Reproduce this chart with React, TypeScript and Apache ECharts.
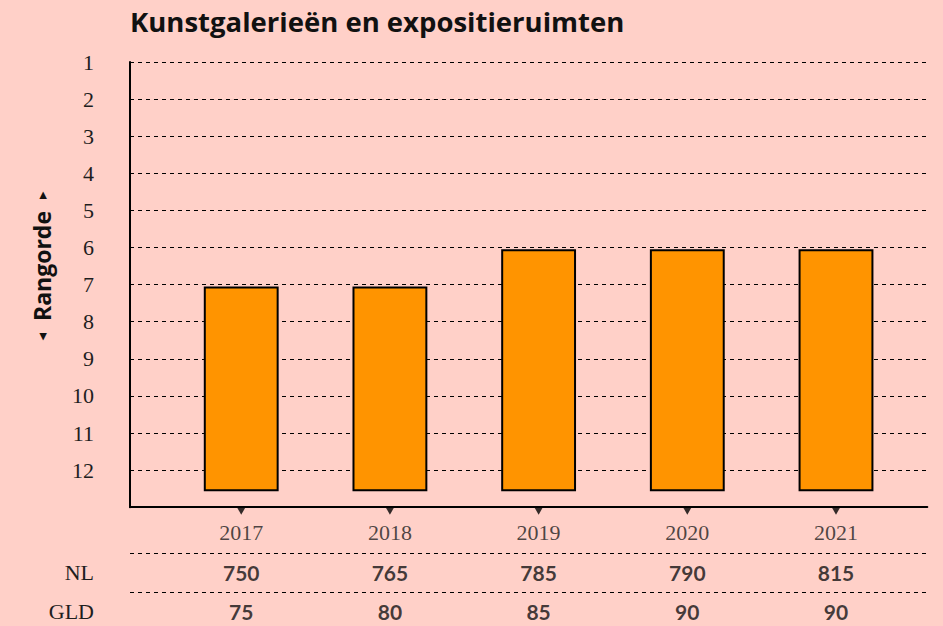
import React, { useEffect, useRef } from 'react';
import * as echarts from 'echarts';

const title = 'Kunstgalerieën en expositieruimten';
const axisName = 'Rangorde';
const years = [2017, 2018, 2019, 2020, 2021];
const ranks = [7, 7, 6, 6, 6];
const nlValues = [750, 765, 785, 790, 815];
const gldValues = [75, 80, 85, 90, 90];
const tableRows = ['NL', 'GLD'];

export default function App() {
  const ref = useRef<HTMLDivElement>(null);
  useEffect(() => {
    document.body.style.margin = '0';
    const chart = echarts.init(ref.current as HTMLDivElement, null, { renderer: 'svg' });
    const serif = "'Liberation Serif', 'DejaVu Serif', serif";
    const sans = "Lato, 'DejaVu Sans', sans-serif";
    const sansWide = "'Open Sans', 'DejaVu Sans', sans-serif";
    const xMin = 2016.252;
    const xMax = 2021.614;
    const BAR_BASE = 12.54;
    const BAR_TOP_PAD = 0.075;
    const BAR_HALF = 0.245;
    const dashed = { type: [4, 4], color: '#000', width: 1 };

    chart.setOption({
      animation: false,
      backgroundColor: '#FFD0C8',
      title: {
        text: title,
        left: 130,
        top: 7,
        padding: 0,
        textStyle: { fontFamily: sansWide, fontWeight: 'bold', fontSize: 27.5, color: '#111' },
      },
      graphic: [
        {
          type: 'text',
          x: 42,
          y: 266,
          rotation: Math.PI / 2,
          style: {
            text: `{t|◂}  ${axisName}  {t|▸}`,
            font: `bold 23px ${sansWide}`,
            textAlign: 'center',
            textVerticalAlign: 'middle',
            fill: '#111',
            rich: {
              t: { fontSize: 15, fontFamily: "'DejaVu Sans', sans-serif", fill: '#111' },
            },
          },
        },
      ],
      grid: [
        { left: 130, right: 15.7, top: 62, bottom: 118.8, outerBoundsMode: 'none' },
        { left: 130, right: 15.7, top: 553.3, height: 78, outerBoundsMode: 'none' },
      ],
      xAxis: [
        {
          type: 'value',
          gridIndex: 0,
          min: xMin,
          max: xMax,
          axisLine: { show: true, onZero: false, lineStyle: { color: '#000', width: 2 } },
          axisTick: { show: false },
          axisLabel: { show: false },
          splitLine: { show: false },
        },
        { type: 'value', gridIndex: 1, min: xMin, max: xMax, show: false },
      ],
      yAxis: [
        {
          type: 'value',
          gridIndex: 0,
          inverse: true,
          min: 1,
          max: 13,
          interval: 1,
          axisLine: { show: true, onZero: false, lineStyle: { color: '#000', width: 2 } },
          axisTick: { show: false },
          axisLabel: {
            margin: 36,
            fontFamily: serif,
            fontSize: 22,
            color: '#1e1e1e',
            formatter: (v: number) => (v <= 12 ? String(v) : ''),
          },
          splitLine: { show: true, lineStyle: dashed },
        },
        {
          type: 'category',
          gridIndex: 1,
          data: tableRows,
          inverse: true,
          axisLine: { show: false },
          axisTick: { show: false },
          axisLabel: { margin: 36, fontFamily: serif, fontSize: 22, color: '#1e1e1e' },
          splitLine: { show: true, lineStyle: dashed },
        },
      ],
      series: [
        {
          type: 'custom',
          xAxisIndex: 0,
          yAxisIndex: 0,
          data: years.map((y, i) => [y, ranks[i]]),
          encode: { x: 0, y: 1 },
          renderItem: (params: any, api: any) => {
            const x = api.value(0);
            const r = api.value(1);
            const p1 = api.coord([x - BAR_HALF, r + BAR_TOP_PAD]);
            const p2 = api.coord([x + BAR_HALF, BAR_BASE]);
            return {
              type: 'rect',
              shape: { x: p1[0], y: p1[1], width: p2[0] - p1[0], height: p2[1] - p1[1] },
              style: { fill: '#FF9400', stroke: '#000', lineWidth: 2 },
            };
          },
          z: 3,
        },
        {
          type: 'scatter',
          xAxisIndex: 0,
          yAxisIndex: 0,
          clip: false,
          silent: true,
          data: years.map((y) => [y, 13]),
          symbol: 'triangle',
          symbolSize: [8, 7],
          symbolRotate: 180,
          symbolOffset: [0, 4],
          itemStyle: { color: '#000' },
          label: {
            show: true,
            position: 'bottom',
            distance: 7,
            formatter: (p: any) => String(p.value[0]),
            fontFamily: serif,
            fontSize: 22,
            color: '#1e1e1e',
          },
          z: 4,
        },
        ...[nlValues, gldValues].map((vals, row) => ({
          type: 'scatter',
          xAxisIndex: 1,
          yAxisIndex: 1,
          clip: false,
          silent: true,
          data: years.map((y, i) => [y, row, vals[i]]),
          symbolSize: 1,
          itemStyle: { color: 'rgba(0,0,0,0)' },
          label: {
            show: true,
            position: 'inside',
            formatter: (p: any) => String(p.value[2]),
            fontFamily: sans,
            fontWeight: 'bold',
            fontSize: 21,
            color: '#111',
          },
        })),
      ],
    });
    return () => chart.dispose();
  }, []);
  return <div ref={ref} style={{ width: 943, height: 626 }} />;
}
